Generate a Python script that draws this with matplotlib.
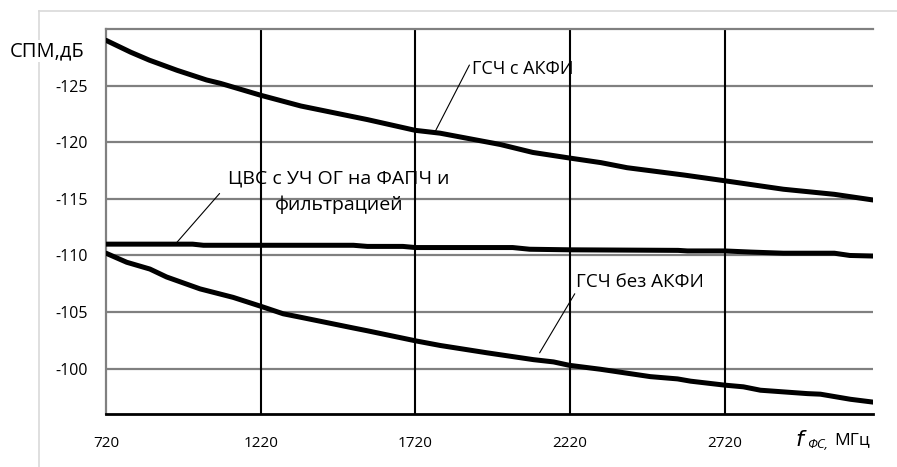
import numpy as np
import matplotlib
matplotlib.use("Agg")
import matplotlib.pyplot as plt
from matplotlib.lines import Line2D

plt.rcParams['font.family'] = ['Open Sans', 'DejaVu Sans']

# ГСЧ с АКФИ
f_top = [720, 800, 860, 950, 1045, 1090, 1220, 1350, 1565, 1720, 1800, 1995, 2100, 2220,
         2320, 2405, 2590, 2720, 2910, 3075, 3200]
spm_top = [-129.0, -127.95, -127.25, -126.35, -125.5, -125.2, -124.15, -123.2, -122.0,
           -121.05, -120.8, -119.8, -119.1, -118.6, -118.2, -117.75, -117.1, -116.6,
           -115.85, -115.4, -114.9]

# ЦВС с УЧ ОГ на ФАПЧ и фильтрацией
f_mid = [720, 1000, 1035, 1350, 1520, 1565, 1680, 1720, 2035, 2090, 2220, 2570,
         2600, 2720, 2805, 2910, 3075, 3125, 3200]
spm_mid = [-111.0, -111.0, -110.9, -110.9, -110.9, -110.8, -110.8, -110.7, -110.7,
           -110.55, -110.5, -110.45, -110.4, -110.4, -110.3, -110.2, -110.2, -110.0, -109.95]

# ГСЧ без АКФИ
f_bot = [720, 787, 862, 916, 1024, 1131, 1222, 1293, 1348, 1519, 1565, 1723, 1801,
         1953, 2102, 2167, 2218, 2319, 2480, 2568, 2610, 2720, 2781, 2836, 2988,
         3030, 3127, 3200]
spm_bot = [-110.2, -109.4, -108.8, -108.1, -107.05, -106.3, -105.5, -104.85, -104.55,
           -103.6, -103.35, -102.45, -102.05, -101.4, -100.8, -100.6, -100.3, -99.95,
           -99.3, -99.1, -98.9, -98.55, -98.4, -98.1, -97.8, -97.75, -97.3, -97.05]

x_ticks = [720, 1220, 1720, 2220, 2720]
y_ticks = [-125, -120, -115, -110, -105, -100]
labels = ["ГСЧ с АКФИ", "ЦВС с УЧ ОГ на ФАПЧ и\nфильтрацией", "ГСЧ без АКФИ"]

fig = plt.figure(figsize=(8.97, 4.67), dpi=100)
ax = fig.add_axes([106/897, 1-414/467, (873-106)/897, (414-29)/467])

# outer chart frame
fig.add_artist(Line2D([39/897, 1], [1-11/467, 1-11/467], color='#d9d9d9', lw=1.2))
fig.add_artist(Line2D([39/897, 39/897], [0, 1-11/467], color='#d9d9d9', lw=1.2))

for y in y_ticks:
    ax.axhline(y, color='#808080', lw=1.6, zorder=1)
for x in x_ticks[1:]:
    ax.axvline(x, color='black', lw=1.5, zorder=1)

for f, v in [(f_top, spm_top), (f_mid, spm_mid), (f_bot, spm_bot)]:
    ax.plot(f, v, color='black', lw=3.6, solid_capstyle='round', zorder=3)

ax.set_xlim(720, 3200)
ax.set_ylim(-96, -130)
ax.set_xticks(x_ticks)
ax.set_xticklabels([str(x) for x in x_ticks], fontsize=11)
ax.set_yticks(y_ticks)
ax.set_yticklabels([str(y) for y in y_ticks], fontsize=11.5)
ax.tick_params(length=0)
ax.tick_params(axis='x', pad=16)
ax.tick_params(axis='y', pad=13)
for s in ['left', 'top']:
    ax.spines[s].set_color('#808080')
    ax.spines[s].set_linewidth(1.6)
ax.spines['right'].set_visible(False)
ax.spines['bottom'].set_color('black')
ax.spines['bottom'].set_linewidth(2)

ax.annotate(labels[0], xy=(1785, -120.98), xytext=(1904, -126.5), fontsize=13,
            va='center', ha='left',
            arrowprops=dict(arrowstyle='-', color='black', lw=0.8, shrinkA=0, shrinkB=0,
                            relpos=(0, 1)))
ax.annotate(labels[1], xy=(949, -111.15), xytext=(1474, -115.67), fontsize=14,
            va='center', ha='center', multialignment='center', linespacing=1.55,
            arrowprops=dict(arrowstyle='-', color='black', lw=0.8, shrinkA=0, shrinkB=0,
                            relpos=(-0.04, 0.45)))
ax.annotate(labels[2], xy=(2122, -101.4), xytext=(2241, -107.66), fontsize=13.5,
            va='center', ha='left',
            arrowprops=dict(arrowstyle='-', color='black', lw=0.8, shrinkA=0, shrinkB=0,
                            relpos=(0, 0)))

fig.text(10/897, 1-51/467, "СПМ,дБ", fontsize=14.5, va='center', ha='left',
         bbox=dict(facecolor='white', edgecolor='none', pad=1))
fig.text(795/897, 1-440/467, "$f$", fontsize=16, va='center', ha='left')
fig.text(807/897, 1-444/467, "ФС,", fontsize=9.5, va='center', ha='left', style='italic')
fig.text(834/897, 1-440/467, "МГц", fontsize=12.5, va='center', ha='left')

fig.savefig("out.png", dpi=100)
